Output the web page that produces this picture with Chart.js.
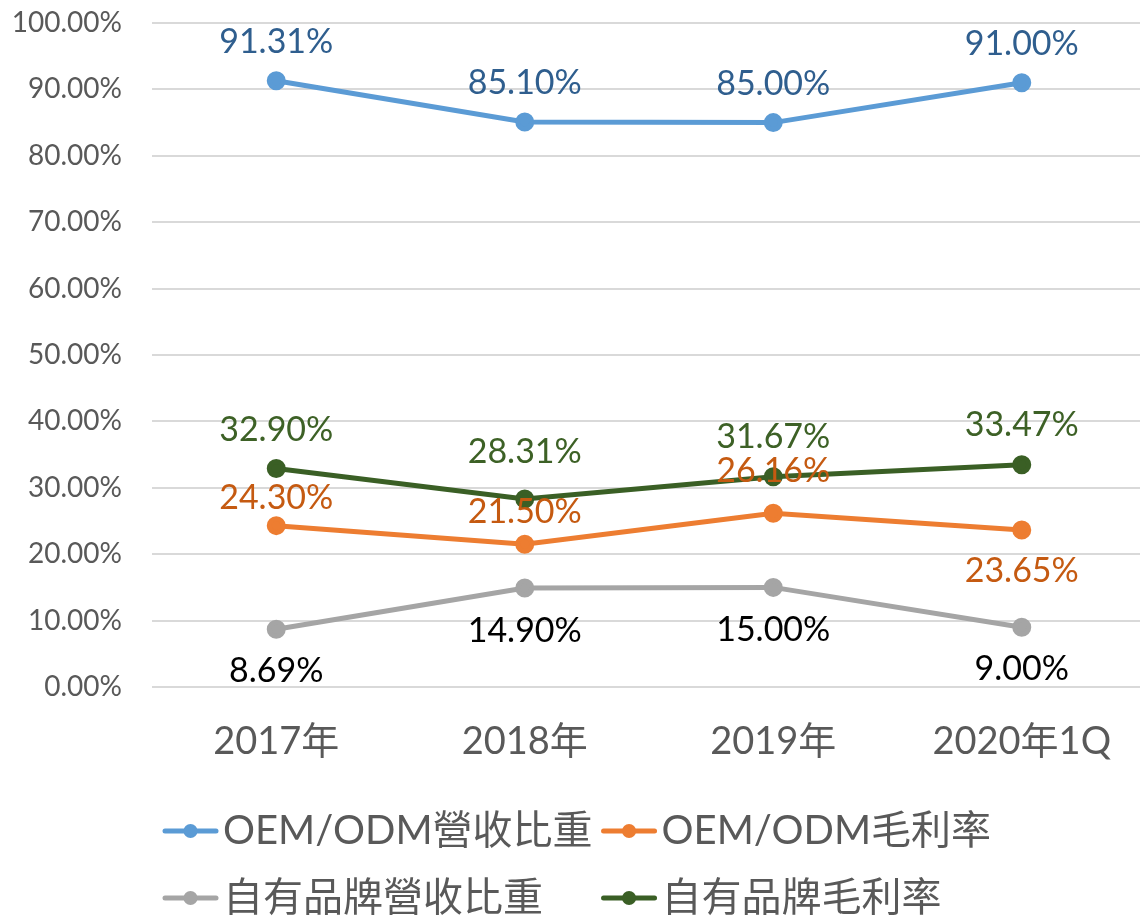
<!DOCTYPE html>
<html>
<head>
<meta charset="utf-8">
<script src="https://cdn.jsdelivr.net/npm/chart.js@4/dist/chart.umd.min.js"></script>
<style>
  html, body { margin: 0; padding: 0; background: #fff; overflow: hidden; }
  #wrap { width: 1146px; height: 916px; }
</style>
</head>
<body>
<div id="wrap"><canvas id="lineChart"></canvas></div>
<script>
var categories = ['2017年', '2018年', '2019年', '2020年1Q'];
var oemShare = [91.31, 85.10, 85.00, 91.00];
var oemMargin = [24.30, 21.50, 26.16, 23.65];
var brandShare = [8.69, 14.90, 15.00, 9.00];
var brandMargin = [32.90, 28.31, 31.67, 33.47];
var yTicks = [0, 10, 20, 30, 40, 50, 60, 70, 80, 90, 100];

// label offsets (px) from each point, negative = above
var oemShareOff = [-39, -39, -39, -39];
var oemMarginOff = [-28, -32, -42, 41];
var brandShareOff = [42, 43, 43, 42];
var brandMarginOff = [-39, -47, -40, -40];

var labelPlugin = {
    id: 'pointLabels',
    afterDatasetsDraw: function (chart) {
        var ctx = chart.ctx;
        ctx.save();
        ctx.font = '34px Lato, "Noto Sans", sans-serif';
        ctx.textAlign = 'center';
        ctx.textBaseline = 'middle';
        chart.data.datasets.forEach(function (ds, i) {
            var meta = chart.getDatasetMeta(i);
            ctx.fillStyle = ds.labelColor;
            meta.data.forEach(function (pt, j) {
                ctx.fillText(ds.data[j].toFixed(2) + '%', pt.x, pt.y + ds.labelOffset[j]);
            });
        });
        ctx.restore();
    }
};

// two-column legend like the Excel original
var legendPlugin = {
    id: 'gridLegend',
    afterDraw: function (chart) {
        var ctx = chart.ctx;
        var sets = chart.data.datasets;
        ctx.save();
        ctx.font = '40px Lato, "Noto Sans CJK TC", sans-serif';
        ctx.textBaseline = 'middle';
        var left = 163, iconW = 55, gap = 5, colGap = 9;
        var rowY = [chart.height - 85, chart.height - 18];
        var col1W = Math.max(ctx.measureText(sets[0].label).width, ctx.measureText(sets[2].label).width);
        var colX = [left, left + iconW + gap + col1W + colGap];
        sets.forEach(function (ds, i) {
            var x = colX[i % 2], y = rowY[Math.floor(i / 2)];
            ctx.strokeStyle = ds.borderColor;
            ctx.lineWidth = 5;
            ctx.lineCap = 'round';
            ctx.beginPath();
            ctx.moveTo(x + 2, y);
            ctx.lineTo(x + iconW - 2, y);
            ctx.stroke();
            ctx.fillStyle = ds.borderColor;
            ctx.beginPath();
            ctx.arc(x + iconW / 2, y, 7, 0, Math.PI * 2);
            ctx.fill();
            ctx.fillStyle = '#595959';
            ctx.fillText(ds.label, x + iconW + gap, y);
        });
        ctx.restore();
    }
};

function makeSet(label, data, color, labelColor, offsets) {
    return {
        label: label,
        data: data,
        borderColor: color,
        backgroundColor: color,
        borderWidth: 5,
        pointRadius: 7,
        pointHoverRadius: 7,
        pointStyle: 'circle',
        tension: 0,
        clip: false,
        labelColor: labelColor,
        labelOffset: offsets
    };
}

var ctx = document.getElementById('lineChart').getContext('2d');
var myChart = new Chart(ctx, {
    type: 'line',
    data: {
        labels: categories,
        datasets: [
            makeSet('OEM/ODM營收比重', oemShare, '#5B9BD5', '#2F5E8E', oemShareOff),
            makeSet('OEM/ODM毛利率', oemMargin, '#ED7D31', '#C55A11', oemMarginOff),
            makeSet('自有品牌營收比重', brandShare, '#A5A5A5', '#000000', brandShareOff),
            makeSet('自有品牌毛利率', brandMargin, '#3A5F25', '#3D6126', brandMarginOff)
        ]
    },
    options: {
        responsive: true,
        maintainAspectRatio: false,
        animation: false,
        layout: { autoPadding: false, padding: 0 },
        scales: {
            x: {
                offset: true,
                grid: { display: false, drawTicks: false },
                border: { display: false },
                afterFit: function (axis) { axis.height = 229; },
                ticks: {
                    color: '#595959',
                    padding: 32,
                    font: { family: 'Lato, "Noto Sans CJK TC", sans-serif', size: 38 }
                }
            },
            y: {
                min: 0,
                max: 100,
                afterBuildTicks: function (axis) {
                    axis.ticks = yTicks.map(function (v) { return { value: v }; });
                },
                afterFit: function (axis) {
                    axis.width = 152;
                    axis.paddingTop = 23;
                    axis.paddingBottom = 0;
                },
                grid: { color: '#D9D9D9', lineWidth: 2, drawTicks: false },
                border: { display: false },
                ticks: {
                    color: '#595959',
                    padding: 30,
                    font: { family: 'Lato, "Noto Sans", sans-serif', size: 28 },
                    callback: function (v) { return v.toFixed(2) + '%'; }
                }
            }
        },
        plugins: {
            legend: { display: false },
            tooltip: { enabled: false }
        }
    },
    plugins: [labelPlugin, legendPlugin]
});
</script>
</body>
</html>
